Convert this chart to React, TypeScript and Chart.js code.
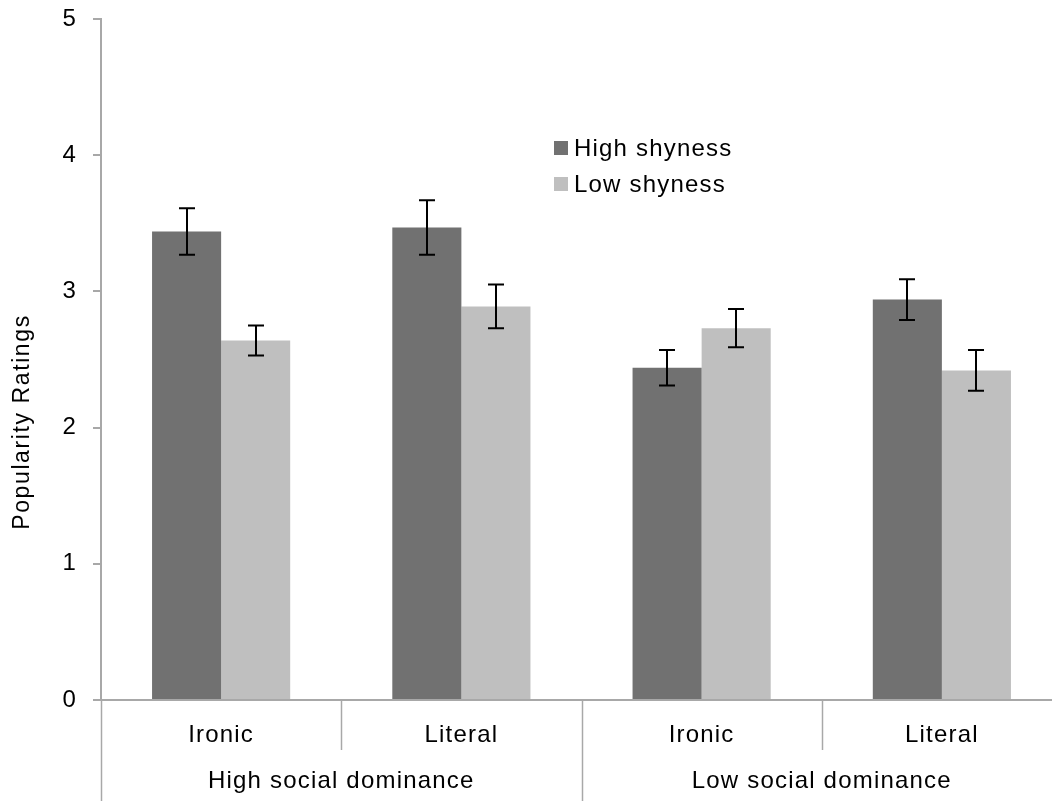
import React, { useEffect, useRef } from 'react';
import { Chart, registerables } from 'chart.js';

Chart.register(...registerables);

const categories = ['Ironic', 'Literal', 'Ironic', 'Literal'];
const groups = ['High social dominance', 'Low social dominance'];
const seriesNames = ['High shyness', 'Low shyness'];
const highShyness = [3.44, 3.47, 2.44, 2.94];
const lowShyness = [2.64, 2.89, 2.73, 2.42];
const highShynessErr = [0.17, 0.2, 0.13, 0.15];
const lowShynessErr = [0.11, 0.16, 0.14, 0.15];
const yTicks = [0, 1, 2, 3, 4, 5];
const yTitle = 'Popularity Ratings';

const COLORS = ['#717171', '#bfbfbf'];
const AXIS = '#a8a8a8';
const FONT = "'Liberation Sans', Arial, sans-serif";
const SPACING = '1.2px';
const FS = 24;

const spacingPlugin = {
  id: 'spacing',
  beforeUpdate(chart: any) {
    chart.ctx.letterSpacing = SPACING;
  },
  beforeDraw(chart: any) {
    chart.ctx.letterSpacing = SPACING;
  },
};

const errorBarPlugin = {
  id: 'errorBars',
  afterDatasetsDraw(chart: any) {
    const ctx = chart.ctx;
    const y = chart.scales.y;
    ctx.save();
    ctx.strokeStyle = '#000';
    ctx.lineWidth = 2;
    chart.data.datasets.forEach((ds: any, di: number) => {
      const meta = chart.getDatasetMeta(di);
      meta.data.forEach((bar: any, i: number) => {
        const v = ds.data[i];
        const e = ds.errors[i];
        const top = y.getPixelForValue(v + e);
        const bot = y.getPixelForValue(v - e);
        const x = Math.round(bar.x);
        ctx.beginPath();
        ctx.moveTo(x, top);
        ctx.lineTo(x, bot);
        ctx.moveTo(x - 8, top);
        ctx.lineTo(x + 8, top);
        ctx.moveTo(x - 8, bot);
        ctx.lineTo(x + 8, bot);
        ctx.stroke();
      });
    });
    ctx.restore();
  },
};

const dividerPlugin = {
  id: 'dividers',
  afterDraw(chart: any) {
    const ctx = chart.ctx;
    const xs = chart.scales.x;
    const bottom = chart.chartArea.bottom;
    ctx.save();
    ctx.strokeStyle = AXIS;
    ctx.lineWidth = 1.5;
    for (let k = 0; k <= categories.length; k++) {
      const px = Math.round(xs.getPixelForValue(k - 0.5)) + 0.5;
      const full = k % 2 === 0;
      ctx.beginPath();
      ctx.moveTo(px, bottom);
      ctx.lineTo(px, full ? chart.height : bottom + 50);
      ctx.stroke();
    }
    ctx.restore();
  },
};

const legendPlugin = {
  id: 'customLegend',
  afterDraw(chart: any) {
    const ctx = chart.ctx;
    ctx.save();
    ctx.font = `${FS}px ${FONT}`;
    ctx.textBaseline = 'middle';
    ctx.textAlign = 'left';
    chart.data.datasets.forEach((ds: any, i: number) => {
      const cy = 148 + i * 36;
      ctx.fillStyle = ds.backgroundColor;
      ctx.fillRect(554, cy - 7, 14, 14);
      ctx.fillStyle = '#000';
      ctx.fillText(ds.label, 574, cy + 1);
    });
    ctx.restore();
  },
};

const yTitlePlugin = {
  id: 'yTitle',
  afterDraw(chart: any) {
    const ctx = chart.ctx;
    ctx.save();
    ctx.letterSpacing = '1.6px';
    ctx.font = `23px ${FONT}`;
    ctx.fillStyle = '#000';
    ctx.textAlign = 'center';
    ctx.textBaseline = 'middle';
    ctx.translate(23, 422);
    ctx.rotate(-Math.PI / 2);
    ctx.fillText(yTitle, 0, 0);
    ctx.restore();
  },
};

export default function App() {
  const ref = useRef<HTMLCanvasElement>(null);

  useEffect(() => {
    const chart = new Chart(ref.current as HTMLCanvasElement, {
      type: 'bar',
      data: {
        labels: categories,
        datasets: [
          {
            label: seriesNames[0],
            data: highShyness,
            errors: highShynessErr,
            backgroundColor: COLORS[0],
            categoryPercentage: 0.575,
            barPercentage: 1,
          } as any,
          {
            label: seriesNames[1],
            data: lowShyness,
            errors: lowShynessErr,
            backgroundColor: COLORS[1],
            categoryPercentage: 0.575,
            barPercentage: 1,
          } as any,
        ],
      },
      options: {
        responsive: false,
        animation: false,
        layout: { padding: { top: 19, right: 8, bottom: 0, left: 0 } },
        plugins: {
          legend: { display: false },
          tooltip: { enabled: false },
        },
        scales: {
          x: {
            type: 'category',
            position: 'bottom',
            offset: true,
            grid: { display: false, drawTicks: false },
            border: { display: true, color: AXIS, width: 2 },
            ticks: {
              font: { family: FONT, size: FS },
              color: '#000',
              padding: 21,
              maxRotation: 0,
              autoSkip: false,
            },
            afterFit: (s: any) => {
              s.height = 48;
              s.paddingLeft = 0;
              s.paddingRight = 0;
            },
          },
          x2: {
            type: 'category',
            position: 'bottom',
            labels: groups,
            offset: true,
            grid: { display: false, drawTicks: false },
            border: { display: false },
            ticks: {
              font: { family: FONT, size: FS },
              color: '#000',
              padding: 19,
              maxRotation: 0,
              autoSkip: false,
            },
            afterFit: (s: any) => {
              s.height = 53;
              s.paddingLeft = 0;
              s.paddingRight = 0;
            },
          },
          y: {
            min: yTicks[0],
            max: yTicks[yTicks.length - 1],
            afterBuildTicks: (s: any) => {
              s.ticks = yTicks.map((v) => ({ value: v }));
            },
            grid: {
              drawOnChartArea: false,
              tickLength: 8,
              color: AXIS,
              lineWidth: 2,
            },
            border: { display: true, color: AXIS, width: 2 },
            ticks: {
              font: { family: FONT, size: FS },
              color: '#000',
              padding: 16,
            },
            afterFit: (s: any) => {
              s.width = 101;
              s.paddingTop = 0;
              s.paddingBottom = 0;
            },
          },
        },
      } as any,
      plugins: [spacingPlugin, errorBarPlugin, dividerPlugin, legendPlugin, yTitlePlugin],
    });
    return () => chart.destroy();
  }, []);

  return (
    <div
      style={{
        position: 'fixed',
        left: 0,
        top: 0,
        width: 1052,
        height: 801,
        overflow: 'hidden',
        background: '#fff',
      }}
    >
      <canvas ref={ref} width={1070} height={801} style={{ display: 'block' }} />
    </div>
  );
}
